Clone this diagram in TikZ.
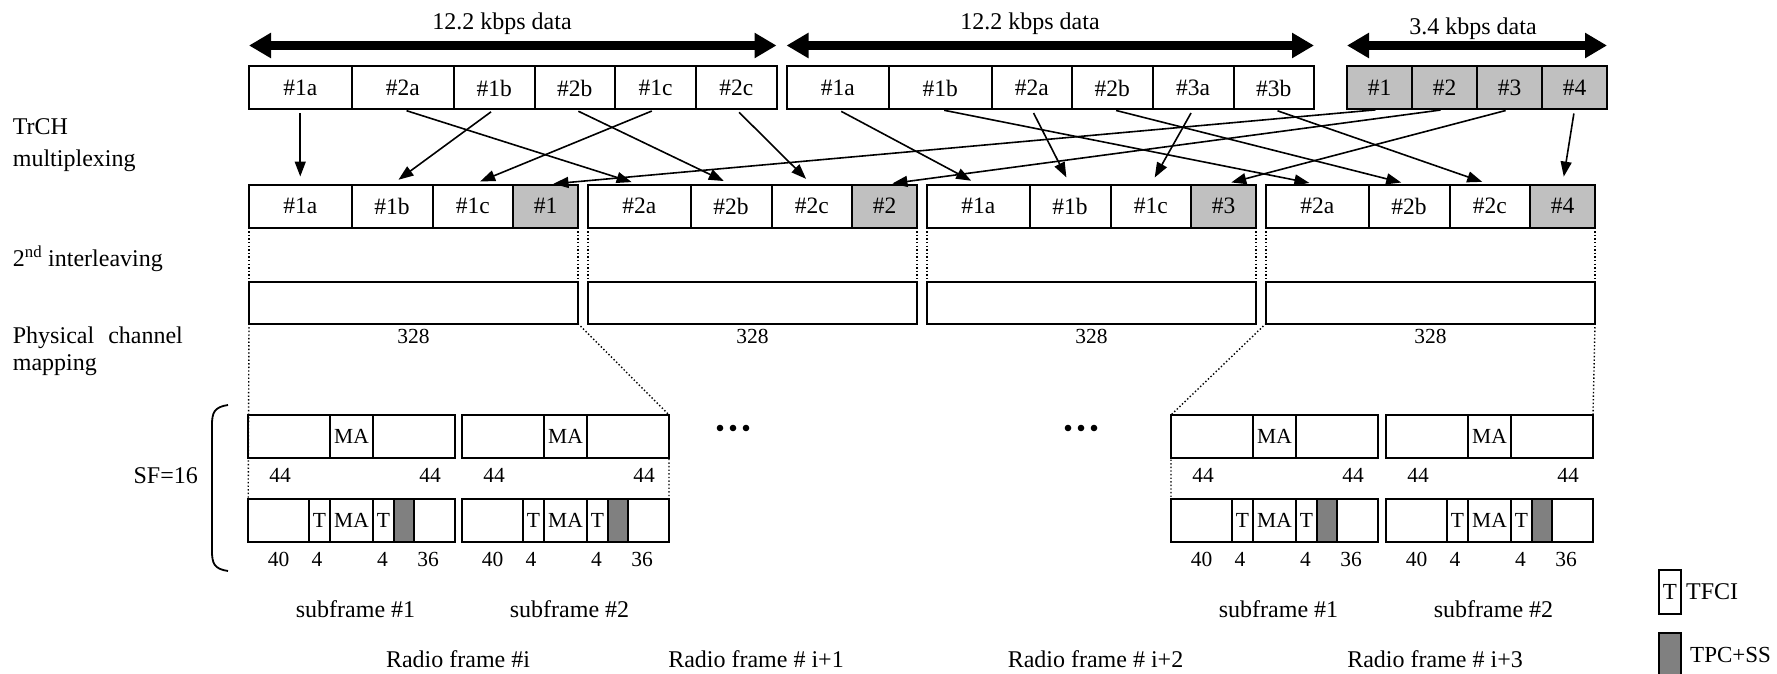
\documentclass[tikz,border=0pt]{standalone}
\usepackage{fontspec}
\setmainfont{Liberation Serif}
\usetikzlibrary{arrows.meta,positioning}
\definecolor{litegray}{RGB}{192,192,192}
\definecolor{tpcgray}{RGB}{128,128,128}
\newcommand{\lblfont}{\fontsize{24}{28}\selectfont}
\newcommand{\cellfont}{\fontsize{23.5}{28}\selectfont}
\newcommand{\numfont}{\fontsize{21.5}{24}\selectfont}
% one subframe: two slot formats, #1 name, #2 left edge, #3 caption
\newcommand{\slotpair}[3]{%
  \node[cell,wd=82,anchor=north west] (#1u1) at (#2,415) {};
  \node[cell,wd=43,right=0pt of #1u1,font=\numfont] (#1u2) {MA};
  \node[cell,wd=82,right=0pt of #1u2] (#1u3) {};
  \node[cell,wd=61,anchor=north west] (#1d1) at (#2,499) {};
  \node[cell,wd=21,right=0pt of #1d1,font=\numfont] (#1d2) {T};
  \node[cell,wd=43,right=0pt of #1d2,font=\numfont] (#1d3) {MA};
  \node[cell,wd=21,right=0pt of #1d3,font=\numfont] (#1d4) {T};
  \node[tpc,wd=20,right=0pt of #1d4] (#1d5) {};
  \node[cell,wd=41,right=0pt of #1d5] (#1d6) {};
  \node[num] (#1n1) at (#2+32,482) {44};
  \node[num] (#1n2) at (#2+182,482) {44};
  \node[num] (#1n3) at (#2+30.5,566) {40};
  \node[num] (#1n4) at (#2+69,566) {4};
  \node[num] (#1n5) at (#2+134.5,566) {4};
  \node[num] (#1n6) at (#2+180,566) {36};
  \node[lbl,anchor=base] (#1cap) at (#2+107.5,617) {#3};
}

\begin{document}
\begin{tikzpicture}[x=1pt,y=-1pt,
  cell/.style={draw,line width=2pt,minimum height=43pt,inner sep=0pt,outer sep=0pt,font=\cellfont},
  wd/.style={minimum width=#1pt},
  lite/.style={cell,fill=litegray},
  tpc/.style={cell,fill=tpcgray},
  lbl/.style={inner sep=0pt,font=\lblfont},
  num/.style={inner sep=0pt,anchor=base,font=\numfont},
  tr/.style={-{Triangle[length=15pt,width=11pt]},line width=1.6pt,shorten >=8pt,shorten <=4pt},
  big/.style={{Triangle[length=22pt,width=24pt]}-{Triangle[length=22pt,width=24pt]},line width=8.5pt},
  dots/.style={line width=1.4pt,dash pattern=on 1.4pt off 2.2pt}]
\useasboundingbox (0,0) rectangle (1777,674);

% left captions
\node[lbl,anchor=base west] (trch1) at (12.7,135) {TrCH};
\node[lbl,anchor=base west] (trch2) at (12.7,166) {multiplexing};
\node[lbl,anchor=base west] (intl) at (12.7,266.7) {2\textsuperscript{nd} interleaving};
\node[lbl,anchor=base west] (phy1) at (12.7,343.3) {\makebox[170pt][s]{Physical channel}};
\node[lbl,anchor=base west] (phy2) at (12.7,370.5) {mapping};
\node[lbl,anchor=base east] (sf) at (198,483) {SF=16};

% transport channel data
\node[cell,wd=102.5,anchor=north west] (a1a) at (249,66.5) {\#1a};
\node[cell,wd=102.5,right=0pt of a1a] (a2a) {\#2a};
\node[cell,wd=80.5,right=0pt of a2a] (a1b) {\#1b};
\node[cell,wd=80.5,right=0pt of a1b] (a2b) {\#2b};
\node[cell,wd=81,right=0pt of a2b] (a1c) {\#1c};
\node[cell,wd=80.5,right=0pt of a1c] (a2c) {\#2c};
\node[cell,wd=102.5,anchor=north west] (b1a) at (786.5,66.5) {\#1a};
\node[cell,wd=102.5,right=0pt of b1a] (b1b) {\#1b};
\node[cell,wd=80.5,right=0pt of b1b] (b2a) {\#2a};
\node[cell,wd=80.5,right=0pt of b2a] (b2b) {\#2b};
\node[cell,wd=81,right=0pt of b2b] (b3a) {\#3a};
\node[cell,wd=80.5,right=0pt of b3a] (b3b) {\#3b};
\node[lite,wd=65,anchor=north west] (c1) at (1347,66.5) {\#1};
\node[lite,wd=65,right=0pt of c1] (c2) {\#2};
\node[lite,wd=65,right=0pt of c2] (c3) {\#3};
\node[lite,wd=65,right=0pt of c3] (c4) {\#4};

\draw[big] ([yshift=21pt]a1a.north west) -- ([yshift=21pt]a2c.north east);
\draw[big] ([yshift=21pt]b1a.north west) -- ([yshift=21pt]b3b.north east);
\draw[big] ([yshift=21pt]c1.north west) -- ([yshift=21pt]c4.north east);
\node[lbl,anchor=base] (rateA) at (502,30) {12.2 kbps data};
\node[lbl,anchor=base] (rateB) at (1030,30) {12.2 kbps data};
\node[lbl,anchor=base] (rateC) at (1473,35) {3.4 kbps data};

% multiplexed frames
\node[cell,wd=102.5,anchor=north west] (m11) at (249,184.5) {\#1a};
\node[cell,wd=81,right=0pt of m11] (m12) {\#1b};
\node[cell,wd=80.5,right=0pt of m12] (m13) {\#1c};
\node[lite,wd=65,right=0pt of m13] (m14) {\#1};
\node[cell,wd=102.5,anchor=north west] (m21) at (588,184.5) {\#2a};
\node[cell,wd=81,right=0pt of m21] (m22) {\#2b};
\node[cell,wd=80.5,right=0pt of m22] (m23) {\#2c};
\node[lite,wd=65,right=0pt of m23] (m24) {\#2};
\node[cell,wd=102.5,anchor=north west] (m31) at (927,184.5) {\#1a};
\node[cell,wd=81,right=0pt of m31] (m32) {\#1b};
\node[cell,wd=80.5,right=0pt of m32] (m33) {\#1c};
\node[lite,wd=65,right=0pt of m33] (m34) {\#3};
\node[cell,wd=102.5,anchor=north west] (m41) at (1266,184.5) {\#2a};
\node[cell,wd=81,right=0pt of m41] (m42) {\#2b};
\node[cell,wd=80.5,right=0pt of m42] (m43) {\#2c};
\node[lite,wd=65,right=0pt of m43] (m44) {\#4};

\foreach \s/\t in {a1a/m11,a2a/m21,a1b/m12,a2b/m22,a1c/m13,a2c/m23,
                   b1a/m31,b1b/m41,b2a/m32,b2b/m42,b3a/m33,b3b/m43,
                   c1/m14,c2/m24,c3/m34,c4/m44}
  \draw[tr] (\s.south) -- (\t.north);

% interleaved radio frames
\node[cell,wd=329,minimum height=42pt,anchor=north west] (ph1) at (249,281.5) {};
\node[cell,wd=329,minimum height=42pt,anchor=north west] (ph2) at (588,281.5) {};
\node[cell,wd=329,minimum height=42pt,anchor=north west] (ph3) at (927,281.5) {};
\node[cell,wd=329,minimum height=42pt,anchor=north west] (ph4) at (1266,281.5) {};
\foreach \k in {1,...,4} {
  \draw[dots] (m\k1.south west) -- (ph\k.north west);
  \draw[dots] (m\k4.south east) -- (ph\k.north east);
  \node[num] (len\k) at ([yshift=-20pt]ph\k.south) {328};
}

% slots
\slotpair{sA1}{248}{subframe \#1}
\slotpair{sA2}{462}{subframe \#2}
\slotpair{sD1}{1171}{subframe \#1}
\slotpair{sD2}{1386}{subframe \#2}

\draw[dots] (ph1.south west) -- (sA1d1.south west);
\draw[dots] (ph1.south east) -- (sA2u3.north east) -- (sA2d6.south east);
\draw[dots] (ph4.south west) -- (sD1u1.north west) -- (sD1d1.south west);
\draw[dots] (ph4.south east) -- (sD2u3.north east);

\foreach \d in {-13,0,13} {
  \fill (733+\d,428) circle (3.3pt);
  \fill (1081+\d,428) circle (3.3pt);
}

\draw[line width=1.8pt] (228,405) .. controls (214,407) and (212,413) .. (212,425)
  -- (212,551) .. controls (212,563) and (214,569) .. (228,571);

\node[lbl,anchor=base] (rf1) at (458,667) {Radio frame \#i};
\node[lbl,anchor=base] (rf2) at (756,667) {Radio frame \# i+1};
\node[lbl,anchor=base] (rf3) at (1095.5,667) {Radio frame \# i+2};
\node[lbl,anchor=base] (rf4) at (1435,667) {Radio frame \# i+3};

% legend
\node[cell,wd=22,minimum height=44pt,anchor=north west,font=\fontsize{23}{26}\selectfont] (legT) at (1659,570) {T};
\node[lbl,right=5pt of legT] (legTt) {TFCI};
\node[tpc,wd=22,minimum height=44pt,below=19pt of legT] (legS) {};
\node[lbl,font=\fontsize{23}{26}\selectfont,right=9pt of legS] (legSt) {TPC+SS};
\end{tikzpicture}
\end{document}
